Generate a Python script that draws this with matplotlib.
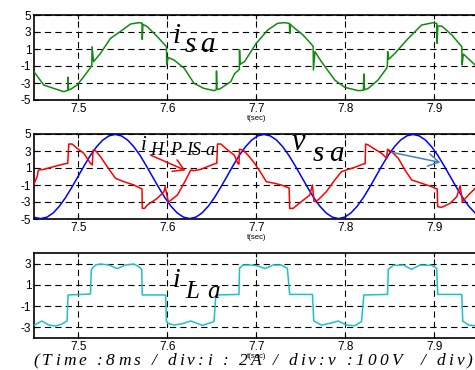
import matplotlib
matplotlib.use("Agg")
import matplotlib.pyplot as plt

plt.rcParams['lines.scale_dashes'] = False

# ---------------- data ----------------
xticks = [7.5, 7.6, 7.7, 7.8, 7.9]
xlim = (7.45, 7.95)

t_isa = [7.450, 7.461, 7.472, 7.4835, 7.4880, 7.4883, 7.4888, 7.491, 7.4985, 7.506,
         7.513, 7.5150, 7.5153, 7.517, 7.5248, 7.536, 7.547, 7.5586, 7.568, 7.5715,
         7.5718, 7.5725, 7.5774, 7.5887, 7.5990, 7.5993, 7.601, 7.6075, 7.619, 7.630,
         7.641, 7.6526, 7.6550, 7.6553, 7.6558, 7.6590, 7.6714, 7.6756, 7.6810, 7.6812,
         7.6818, 7.6868, 7.700, 7.713, 7.724, 7.732, 7.7373, 7.7376, 7.7385, 7.741,
         7.7526, 7.7628, 7.7640, 7.7643, 7.766, 7.7733, 7.7883, 7.7996, 7.8147, 7.8205,
         7.8211, 7.8218, 7.826, 7.837, 7.8466, 7.8475, 7.8478, 7.849, 7.856, 7.871,
         7.886, 7.899, 7.9031, 7.9034, 7.9042, 7.9086, 7.920, 7.9312, 7.9315, 7.933,
         7.9462]
i_sa = [-1.67, -3.24, -3.63, -4.02, -3.85, -2.33, -3.80, -3.75, -3.24, -2.25,
        -1.27, -0.90, 1.27, -0.49, 0.49, 2.25, 3.04, 3.94, 4.10, 4.05,
        2.14, 3.90, 3.63, 2.45, 1.27, -0.88, 0.00, -0.30, -1.27, -3.04,
        -3.63, -3.90, -3.80, -1.59, -3.75, -3.70, -2.84, -1.90, -1.40, 0.88,
        -0.80, -0.49, 1.67, 3.24, 4.02, 4.10, 4.00, 2.84, 3.90, 3.63,
        2.65, 1.47, 1.30, -1.47, 0.69, -0.49, -2.65, -3.51, -3.90, -3.85,
        -1.94, -3.80, -3.63, -2.65, -1.27, -1.00, 0.69, -0.20, 0.49, 2.25,
        3.82, 4.10, 4.00, 1.67, 3.70, 3.70, 2.65, 1.27, -0.88, 0.40,
        -0.88]

t_hpis = [7.4504, 7.4535, 7.4550, 7.4609, 7.4722, 7.4835, 7.4880, 7.4891, 7.4929, 7.4985,
          7.5060, 7.5135, 7.5155, 7.5165, 7.5192, 7.5248, 7.5323, 7.5417, 7.5511, 7.5624,
          7.5699, 7.5715, 7.5718, 7.5745, 7.5774, 7.5887, 7.5962, 7.5975, 7.6011, 7.6019,
          7.6113, 7.6207, 7.6263, 7.6300, 7.6376, 7.6451, 7.6526, 7.6556, 7.6564, 7.6602,
          7.6677, 7.6752, 7.6790, 7.6805, 7.6812, 7.6850, 7.6906, 7.6981, 7.7056, 7.7113,
          7.7207, 7.7282, 7.7357, 7.7370, 7.7376, 7.7414, 7.7508, 7.7602, 7.7632, 7.7650,
          7.7695, 7.7789, 7.7883, 7.7959, 7.8034, 7.8109, 7.8203, 7.8225, 7.8230, 7.8260,
          7.8335, 7.8410, 7.8466, 7.8477, 7.8523, 7.8598, 7.8673, 7.8748, 7.8861, 7.8974,
          7.9011, 7.9035, 7.9041, 7.9086, 7.9180, 7.9256, 7.9293, 7.9319, 7.9387, 7.9462]
i_hpis = [-0.80, 0.00, 0.76, 0.84, 1.16, 1.47, 1.55, 3.82, 3.82, 3.31,
          2.73, 1.55, 1.35, 3.12, 3.04, 2.33, 1.16, -0.22, -0.61, -1.00,
          -1.39, -1.45, -3.75, -3.75, -3.35, -2.57, -1.78, -1.20, -2.96, -2.96,
          -2.18, -0.41, 0.76, 0.69, 0.84, 1.16, 1.47, 1.55, 3.82, 3.82,
          3.12, 2.53, 1.60, 1.45, 3.20, 3.12, 2.53, 1.55, 0.37, -0.61,
          -0.80, -1.00, -1.31, -1.35, -3.75, -3.75, -2.96, -2.18, -1.00, -2.96,
          -2.76, -1.78, -0.41, 0.57, 0.84, 1.08, 1.47, 1.50, 3.82, 3.71,
          3.20, 2.73, 2.14, 3.20, 2.92, 2.14, 0.76, -0.41, -0.80, -1.20,
          -1.39, -1.45, -3.55, -3.63, -3.16, -2.37, -1.08, -2.96, -2.18, -1.39]

t_vsa = [7.4500, 7.4576, 7.4646, 7.4716, 7.4785, 7.4855, 7.4925, 7.4995, 7.5065, 7.5134,
         7.5204, 7.5274, 7.5344, 7.5413, 7.5483, 7.5553, 7.5623, 7.5693, 7.5762, 7.5832,
         7.5902, 7.5972, 7.6041, 7.6111, 7.6181, 7.6251, 7.6321, 7.6390, 7.6460, 7.6530,
         7.6600, 7.6670, 7.6739, 7.6809, 7.6879, 7.6949, 7.7018, 7.7088, 7.7158, 7.7228,
         7.7298, 7.7367, 7.7437, 7.7507, 7.7577, 7.7646, 7.7716, 7.7786, 7.7856, 7.7926,
         7.7996, 7.8065, 7.8135, 7.8205, 7.8275, 7.8345, 7.8414, 7.8484, 7.8554, 7.8624,
         7.8694, 7.8763, 7.8833, 7.8903, 7.8973, 7.9043, 7.9112, 7.9182, 7.9252, 7.9322,
         7.9391, 7.9461, 7.9531, 7.9601]
v_sa = [-4.80, -4.95, -4.78, -4.29, -3.50, -2.48, -1.28, 0.00, 1.28, 2.48,
        3.50, 4.29, 4.78, 4.95, 4.78, 4.29, 3.50, 2.48, 1.28, 0.00,
        -1.28, -2.48, -3.50, -4.29, -4.78, -4.95, -4.78, -4.29, -3.50, -2.48,
        -1.28, 0.00, 1.28, 2.48, 3.50, 4.29, 4.78, 4.95, 4.78, 4.29,
        3.50, 2.48, 1.28, 0.00, -1.28, -2.48, -3.50, -4.29, -4.78, -4.95,
        -4.78, -4.29, -3.50, -2.48, -1.28, 0.00, 1.28, 2.48, 3.50, 4.29,
        4.78, 4.95, 4.78, 4.29, 3.50, 2.48, 1.28, 0.00, -1.28, -2.48,
        -3.50, -4.29, -4.78, -4.95]

t_ila = [7.4504, 7.4590, 7.4665, 7.4740, 7.4816, 7.4872, 7.4883, 7.5135, 7.5145, 7.5190,
         7.5248, 7.5342, 7.5436, 7.5530, 7.5624, 7.5680, 7.5712, 7.5718, 7.5981, 7.5989,
         7.6005, 7.6075, 7.6169, 7.6263, 7.6395, 7.6510, 7.6526, 7.6545, 7.6805, 7.6812,
         7.6850, 7.6944, 7.7019, 7.7101, 7.7188, 7.7282, 7.7350, 7.7376, 7.7632, 7.7647,
         7.7733, 7.7827, 7.7921, 7.8015, 7.8109, 7.8184, 7.8210, 7.8477, 7.8485, 7.8541,
         7.8654, 7.8748, 7.8842, 7.8974, 7.9030, 7.9041, 7.9312, 7.9323, 7.9387, 7.9462]
i_la = [-2.78, -2.40, -2.78, -2.87, -2.68, -2.40, 0.05, 0.14, 2.46, 2.87,
        2.96, 2.87, 2.53, 2.87, 2.96, 2.71, 2.46, 0.05, 0.05, -2.40,
        -2.62, -2.78, -2.65, -2.40, -2.81, -2.50, -2.40, 0.05, 0.10, 2.56,
        2.87, 2.87, 2.78, 2.53, 2.87, 2.87, 2.56, 0.10, 0.10, -2.40,
        -2.78, -2.62, -2.40, -2.78, -2.84, -2.46, 0.05, 0.10, 2.46, 2.84,
        2.87, 2.46, 2.87, 2.84, 2.56, 0.10, 0.10, -2.40, -2.78, -2.84]

yticks_1 = [-5, -3, -1, 1, 3, 5]
yticks_3 = [-3, -1, 1, 3]
caption = "(Time :8ms / div:i : 2A / div:v :100V  / div)"

# ---------------- figure ----------------
W, H = 475, 370
fig = plt.figure(figsize=(W / 100, H / 100), dpi=100)

def px_axes(top, bottom, left=34, right=478.5):
    return fig.add_axes([left / W, 1 - bottom / H, (right - left) / W, (bottom - top) / H])

ax1 = px_axes(15, 100)
ax2 = px_axes(134, 219)
ax3 = px_axes(253, 338)

GREEN = '#128a12'
CYAN = '#1cc2c6'

ax1.plot(t_isa, i_sa, color=GREEN, lw=1.1, zorder=3)
ax2.plot(t_vsa, v_sa, color='#0000ff', lw=1.1, zorder=3)
ax2.plot(t_hpis, i_hpis, color='#ff0000', lw=1.1, zorder=4)
ax3.plot(t_ila, i_la, color=CYAN, lw=1.1, zorder=3)

for ax, yl, yt in [(ax1, (-5, 5), yticks_1), (ax2, (-5, 5), yticks_1), (ax3, (-4, 4), yticks_3)]:
    ax.set_xlim(*xlim)
    ax.set_ylim(*yl)
    ax.set_xticks(xticks)
    ax.set_xticklabels([f"{v:.1f}" for v in xticks], fontsize=8.5, family='Liberation Sans')
    ax.set_yticks(yt)
    ax.set_yticklabels([str(v) for v in yt], fontsize=8.5, family='Liberation Sans')
    ax.tick_params(direction='in', length=3, width=0.8, top=True, right=True, pad=2)
    ax.grid(True, color='black', lw=0.8, linestyle=(0, (4.5, 3.0)))
    for s in ax.spines.values():
        s.set_linewidth(1.2)
    ax.set_xlabel('t(sec)', fontsize=5.5, family='Liberation Sans', labelpad=0)

def ftext(x, y, s, size, **kw):
    return fig.text(x / W, 1 - y / H, s, fontsize=size, family='Liberation Serif', style='italic',
                    va='baseline', ha='left', **kw)

# panel 1 label
ftext(172, 43, 'i', 21)
ftext(185, 52, 's', 21)
ftext(200, 52, 'a', 21)
# panel 2 labels
ftext(141, 150, 'i', 15)
for x, ch in [(150, 'H'), (170, 'P'), (186, 'I'), (192, 'S'), (205, 'a')]:
    ftext(x, 155, ch, 13)
ftext(292, 150, 'v', 22)
ftext(313, 161, 's', 21)
ftext(329, 161, 'a', 21)
# panel 3 label
ftext(172, 287, 'i', 20)
ftext(185, 298, 'L', 18)
ftext(207, 298, 'a', 18)

# arrows (figure pixel coordinates)
fig.add_artist(matplotlib.patches.FancyArrowPatch(
    (148 / W, 1 - 154 / H), (188 / W, 1 - 171.5 / H), transform=fig.transFigure,
    arrowstyle='->,head_length=5,head_width=3', color='#ff0000', lw=1.1, mutation_scale=1.5))
fig.add_artist(matplotlib.patches.FancyArrowPatch(
    (390 / W, 1 - 152 / H), (443 / W, 1 - 163 / H), transform=fig.transFigure,
    arrowstyle='->,head_length=5,head_width=3', color='#4a7fc0', lw=1.1, mutation_scale=1.5))

# caption, tracked out to span the figure width like the reference
renderer = fig.canvas.get_renderer()
cap_size = 12.5
widths = []
for ch in caption:
    if ch == ' ':
        probe = ftext(0, 0, 'a a', cap_size)
        w = probe.get_window_extent(renderer).width
        probe.remove()
        probe = ftext(0, 0, 'aa', cap_size)
        w -= probe.get_window_extent(renderer).width
        probe.remove()
    else:
        probe = ftext(0, 0, ch, cap_size)
        w = probe.get_window_extent(renderer).width
        probe.remove()
    widths.append(w)
x_start, x_end = 33.0, 473.0
extra = ((x_end - x_start) - sum(widths)) / (len(caption) - 1)
x = x_start
for ch, w in zip(caption, widths):
    if ch != ' ':
        ftext(x, 365, ch, cap_size)
    x += w + extra

fig.savefig('out.png', dpi=100)
